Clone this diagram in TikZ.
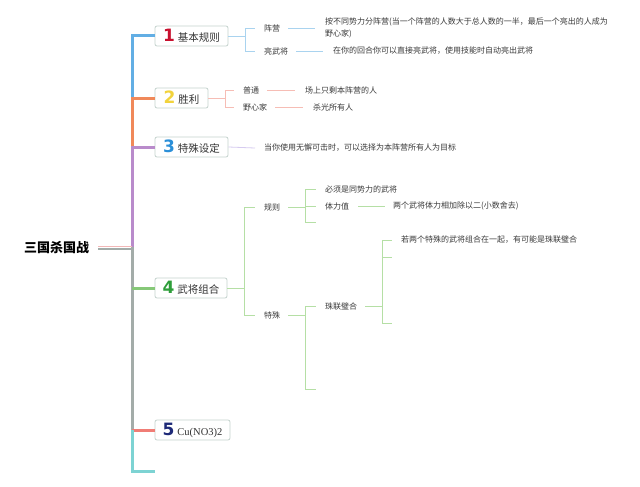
\documentclass[tikz,border=0pt]{standalone}
\usepackage{fontspec}
\setmainfont{Noto Sans CJK SC}
\newfontfamily\numfont{DejaVu Sans}
\newfontfamily\latinserif{Liberation Serif}
\usetikzlibrary{calc}
\definecolor{boxborder}{HTML}{C4D2CD}
\definecolor{textdark}{HTML}{333333}
\definecolor{textgray}{HTML}{3A3A3A}
\definecolor{nred}{HTML}{C8102E}
\definecolor{nyellow}{HTML}{F2D33C}
\definecolor{nblue}{HTML}{2B8FD8}
\definecolor{ngreen}{HTML}{2E9E3A}
\definecolor{nnavy}{HTML}{1E2A78}
\definecolor{spblue}{HTML}{62AEE4}
\definecolor{sporange}{HTML}{F0895A}
\definecolor{sppurple}{HTML}{B98BCB}
\definecolor{spgray}{HTML}{A3ACA9}
\definecolor{sppink}{HTML}{F2B8B8}
\definecolor{spgreen}{HTML}{86C878}
\definecolor{spred}{HTML}{F07D76}
\definecolor{spteal}{HTML}{7DD3D3}
\definecolor{lblue}{HTML}{A9D3EF}
\definecolor{lpink}{HTML}{F6BDB5}
\definecolor{lpurple}{HTML}{D6CBF0}
\definecolor{lgreen}{HTML}{B5DFA5}
\newcommand\bnum[2]{{\numfont\bfseries\fontsize{17}{17}\selectfont\color{#1}#2}\hspace{3pt}}
\tikzset{
  box/.style={draw=boxborder, line width=0.8pt, rounded corners=2pt, fill=white,
    minimum height=20pt, inner xsep=0pt, inner ysep=0pt,
    font=\fontsize{10.5}{12}\selectfont, text=textdark},
  ct/.style={anchor=west, inner sep=0pt, font=\fontsize{8}{11.5}\selectfont, text=textgray},
  spine/.style={line width=3pt},
  thin/.style={line width=0.8pt}
}
\begin{document}
\begin{tikzpicture}[x=1pt,y=-1pt]
\useasboundingbox (0,0) rectangle (640,487);
\fill[white] (0,0) rectangle (640,487);

% root
\node[inner sep=0pt, font=\fontsize{13}{15}\selectfont\bfseries, text=black] (root) at (56.5,248) {三国杀国战};

% main boxes
\node[box, minimum width=73pt] (b1) at (191.5,36) {\bnum{nred}{1}基本规则};
\node[box, minimum width=53pt] (b2) at (181.5,98) {\bnum{nyellow}{2}胜利};
\node[box, minimum width=73pt] (b3) at (191.5,147) {\bnum{nblue}{3}特殊设定};
\node[box, minimum width=72pt] (b4) at (191,288) {\bnum{ngreen}{4}武将组合};
\node[box, minimum width=75pt] (b5) at (192.5,430) {\bnum{nnavy}{5}{\latinserif Cu(NO3)2}};

% spine coordinates
\coordinate (k1) at (132,97);
\coordinate (k2) at (132,147);
\coordinate (k3) at (132,247);
\coordinate (k4) at (132,430);
\coordinate (k5) at (155,471);

% spine
\draw[spine, spgray] (k3) -- (k4);
\draw[spine, spblue] (b1.west) -| (k1);
\draw[spine, sporange] (b2.west) -| (k2);
\draw[spine, sppurple] (b3.west) -| (k3);
\draw[spine, spgreen] (b4.west) -- (b4.west -| k3);
\draw[spine, spred] (b5.west) -- (k4);
\draw[spine, spteal] (k4) |- (k5);
\draw[line width=1.2pt, sppink] ([xshift=9pt,yshift=1.2pt]root.east) -- ([yshift=1.2pt]root.east -| k3);
\draw[line width=2.2pt, spgray] ([xshift=9pt,yshift=-0.6pt]root.east) -- ([yshift=-0.6pt]root.east -| k3);

% branch 1
\node[ct] (c11) at (264,28) {阵营};
\node[ct] (c12) at (264,51) {亮武将};
\node[ct, align=left] (d11) at (325,28) {按不同势力分阵营(当一个阵营的人数大于总人数的一半，最后一个亮出的人成为\\野心家)};
\node[ct] (d12) at (333,51) {在你的回合你可以直接亮武将，使用技能时自动亮出武将};
\draw[thin, lblue] (b1.east) -- ++(17,0) |- ([xshift=-9pt]c11.west);
\draw[thin, lblue] (b1.east) -- ++(17,0) |- ([xshift=-9pt]c12.west);
\draw[thin, lblue] ([xshift=8pt]c11.east) -- ([xshift=-10pt]d11.west);
\draw[thin, lblue] ([xshift=8pt]c12.east) -- ([xshift=-10pt]d12.west);

% branch 2
\node[ct] (c21) at (243,90) {普通};
\node[ct] (c22) at (243,107) {野心家};
\node[ct] (d21) at (305,90) {场上只剩本阵营的人};
\node[ct] (d22) at (313,107) {杀光所有人};
\draw[thin, lpink] (b2.east) -- ++(17,0) |- ([xshift=-9pt]c21.west);
\draw[thin, lpink] (b2.east) -- ++(17,0) |- ([xshift=-9pt]c22.west);
\draw[thin, lpink] ([xshift=8pt]c21.east) -- ([xshift=-10pt]d21.west);
\draw[thin, lpink] ([xshift=8pt]c22.east) -- ([xshift=-10pt]d22.west);

% branch 3
\node[ct] (d31) at (264,148) {当你使用无懈可击时，可以选择为本阵营所有人为目标};
\draw[thin, lpurple] (b3.east) -- ([xshift=-9pt]d31.west);

% branch 4
\node[ct] (c41) at (264,207) {规则};
\node[ct] (c42) at (264,315) {特殊};
\node[ct] (e1) at (325,189) {必须是同势力的武将};
\node[ct] (e2) at (325,206) {体力值};
\coordinate (e3) at (316,222);
\node[ct] (f1) at (393,206) {两个武将体力相加除以二(小数舍去)};
\node[ct] (g1) at (325,306) {珠联璧合};
\coordinate (g2) at (316,389);
\node[ct] (h1) at (401,240) {若两个特殊的武将组合在一起，有可能是珠联璧合};
\coordinate (h2) at (392,257);
\coordinate (h3) at (392,323);

\draw[thin, lgreen] (b4.east) -- ++(17,0) |- ([xshift=-9pt]c41.west);
\draw[thin, lgreen] (b4.east) -- ++(17,0) |- ([xshift=-9pt]c42.west);
\draw[thin, lgreen] ([xshift=8pt]c41.east) -- ++(17,0) |- ([xshift=-9pt]e1.west);
\draw[thin, lgreen] ([xshift=8pt]c41.east) -- ++(17,0) |- ([xshift=-9pt]e2.west);
\draw[thin, lgreen] ([xshift=8pt]c41.east) -- ++(17,0) |- (e3);
\draw[thin, lgreen] ([xshift=9pt]e2.east) -- ([xshift=-8pt]f1.west);
\draw[thin, lgreen] ([xshift=8pt]c42.east) -- ++(17,0) |- ([xshift=-9pt]g1.west);
\draw[thin, lgreen] ([xshift=8pt]c42.east) -- ++(17,0) |- (g2);
\draw[thin, lgreen] ([xshift=8pt]g1.east) -- ++(17,0) |- ([xshift=-9pt]h1.west);
\draw[thin, lgreen] ([xshift=8pt]g1.east) -- ++(17,0) |- (h2);
\draw[thin, lgreen] ([xshift=8pt]g1.east) -- ++(17,0) |- (h3);
\end{tikzpicture}
\end{document}
